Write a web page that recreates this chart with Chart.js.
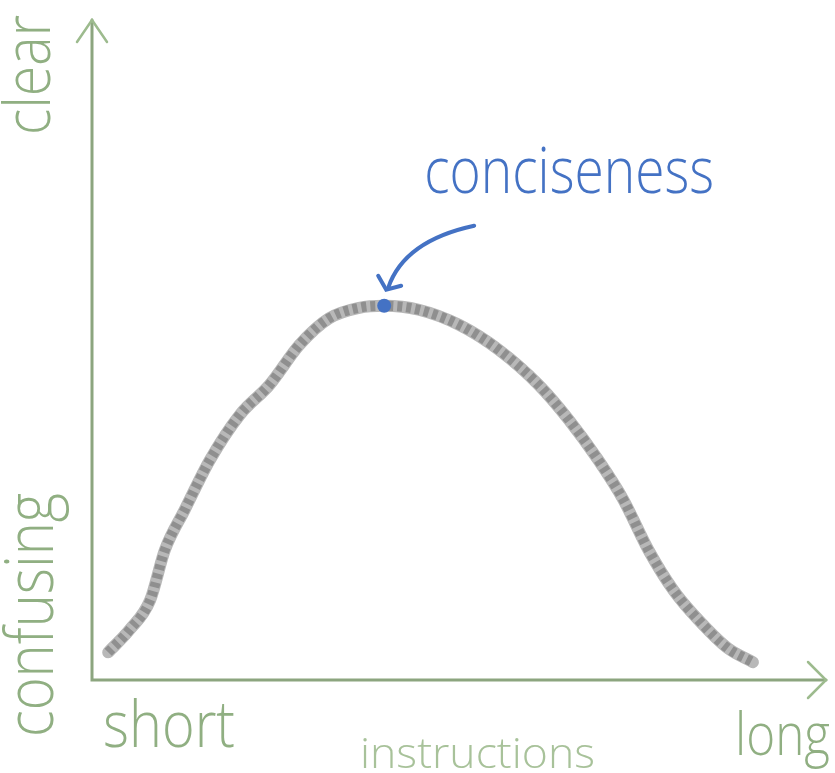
<!DOCTYPE html>
<html>
<head>
<meta charset="utf-8">
<script src="https://cdn.jsdelivr.net/npm/chart.js@4/dist/chart.umd.min.js"></script>
<style>
  html, body { margin: 0; padding: 0; background: #fff; }
  #wrap { width: 835px; height: 773px; }
</style>
</head>
<body>
<div id="wrap"><canvas id="chart"></canvas></div>
<script>
// Courbe "longueur des instructions" vs "clarté" (0..100).
const lengthValues  = [2.2, 5.1, 7.9, 9.9, 12.6, 16.0, 20.1, 24.1, 28.2, 32.2, 36.3, 39.7,
                       44.4, 49.9, 55.3, 60.7, 64.8, 68.8, 72.2, 75.6, 79.0, 82.4, 86.4, 89.8];
const clarityValues = [4.2, 7.6, 12.1, 19.7, 25.8, 33.3, 40.2, 44.7, 50.8, 54.8, 56.4, 56.7,
                       56.1, 53.8, 50.0, 44.7, 39.4, 33.3, 27.3, 19.7, 13.6, 9.1, 4.8, 2.7];
const peak = { x: 39.7, y: 56.7 };
const peakLabel = 'conciseness';
const yLabels = { top: 'clear', bottom: 'confusing' };
const xLabels = { left: 'short', right: 'long', title: 'instructions' };

const green = '#8ca57f';
const greenText = '#90af82';
const blue = '#4472c4';

const points = lengthValues.map((x, i) => ({ x: x, y: clarityValues[i] }));

// Le dessin d'origine utilise une police à grand œil : on part d'Open Sans
// dimensionnée sur la hauteur d'x, puis on la resserre à la largeur voulue.
function fitText(ctx, text, width, xHeight) {
    ctx.font = '300 ' + (xHeight / 0.535).toFixed(1) + 'px "Open Sans"';
    const w = ctx.measureText(text).width;
    ctx.scale(width / w, 1);
    ctx.textAlign = 'left';
    ctx.textBaseline = 'alphabetic';
    ctx.fillText(text, 0, 0);
}

function textAt(ctx, text, x, y, width, xHeight, rotated) {
    ctx.save();
    ctx.translate(x, y);
    if (rotated) {
        ctx.rotate(-Math.PI / 2);
    }
    fitText(ctx, text, width, xHeight);
    ctx.restore();
}

const sketchAxes = {
    id: 'sketchAxes',
    beforeDatasetsDraw(chart) {
        const { ctx, chartArea: a } = chart;
        ctx.save();
        ctx.strokeStyle = green;
        ctx.lineWidth = 3;
        ctx.lineCap = 'round';
        ctx.beginPath();
        ctx.moveTo(a.left, a.top);
        ctx.lineTo(a.left, a.bottom);
        ctx.lineTo(a.right - 2, a.bottom);
        ctx.stroke();
        // flèches
        ctx.strokeStyle = '#9dbb8e';
        ctx.lineWidth = 2.5;
        ctx.beginPath();
        ctx.moveTo(a.left - 15, a.top + 22);
        ctx.lineTo(a.left, a.top);
        ctx.lineTo(a.left + 15, a.top + 22);
        ctx.moveTo(a.right - 20, a.bottom - 18);
        ctx.lineTo(a.right - 2, a.bottom);
        ctx.lineTo(a.right - 20, a.bottom + 18);
        ctx.stroke();

        ctx.fillStyle = greenText;
        textAt(ctx, yLabels.top, 50, 135, 120, 34, true);
        textAt(ctx, yLabels.bottom, 53, 737, 244, 35, true);
        textAt(ctx, xLabels.left, 103, 747, 132, 34, false);
        textAt(ctx, xLabels.right, 735, 755, 95, 32, false);
        ctx.fillStyle = '#a8c29a';
        textAt(ctx, xLabels.title, 360, 768, 235, 23, false);
        ctx.restore();
    },
    afterDatasetsDraw(chart) {
        const { ctx, scales } = chart;
        const px = scales.x.getPixelForValue(peak.x);
        const py = scales.y.getPixelForValue(peak.y);
        ctx.save();
        ctx.strokeStyle = blue;
        ctx.lineWidth = 4;
        ctx.lineCap = 'round';
        ctx.beginPath();
        ctx.moveTo(px + 90, py - 80);
        ctx.quadraticCurveTo(px + 20, py - 65, px + 4, py - 18);
        ctx.stroke();
        ctx.beginPath();
        ctx.moveTo(px - 6, py - 30);
        ctx.lineTo(px + 2, py - 16);
        ctx.lineTo(px + 17, py - 20);
        ctx.stroke();
        ctx.fillStyle = blue;
        textAt(ctx, peakLabel, px + 40, py - 113, 290, 34, false);
        ctx.restore();
    }
};

new Chart(document.getElementById('chart'), {
    type: 'scatter',
    data: {
        datasets: [
            {
                data: points,
                showLine: true,
                borderColor: '#b8b8b8',
                borderWidth: 12,
                borderCapStyle: 'round',
                borderJoinStyle: 'round',
                pointRadius: 0,
                cubicInterpolationMode: 'monotone',
                order: 3
            },
            {
                data: points,
                showLine: true,
                borderColor: '#8f8f8f',
                borderWidth: 10,
                borderDash: [5, 4],
                pointRadius: 0,
                cubicInterpolationMode: 'monotone',
                order: 2
            },
            {
                data: [peak],
                pointRadius: 7,
                pointBackgroundColor: blue,
                pointBorderWidth: 0,
                order: 1
            }
        ]
    },
    options: {
        responsive: true,
        maintainAspectRatio: false,
        animation: false,
        layout: { padding: { left: 92, right: 5, top: 20, bottom: 93 } },
        plugins: { legend: { display: false }, tooltip: { enabled: false } },
        scales: {
            x: { type: 'linear', min: 0, max: 100, display: false },
            y: { type: 'linear', min: 0, max: 100, display: false }
        }
    },
    plugins: [sketchAxes]
});
</script>
</body>
</html>
